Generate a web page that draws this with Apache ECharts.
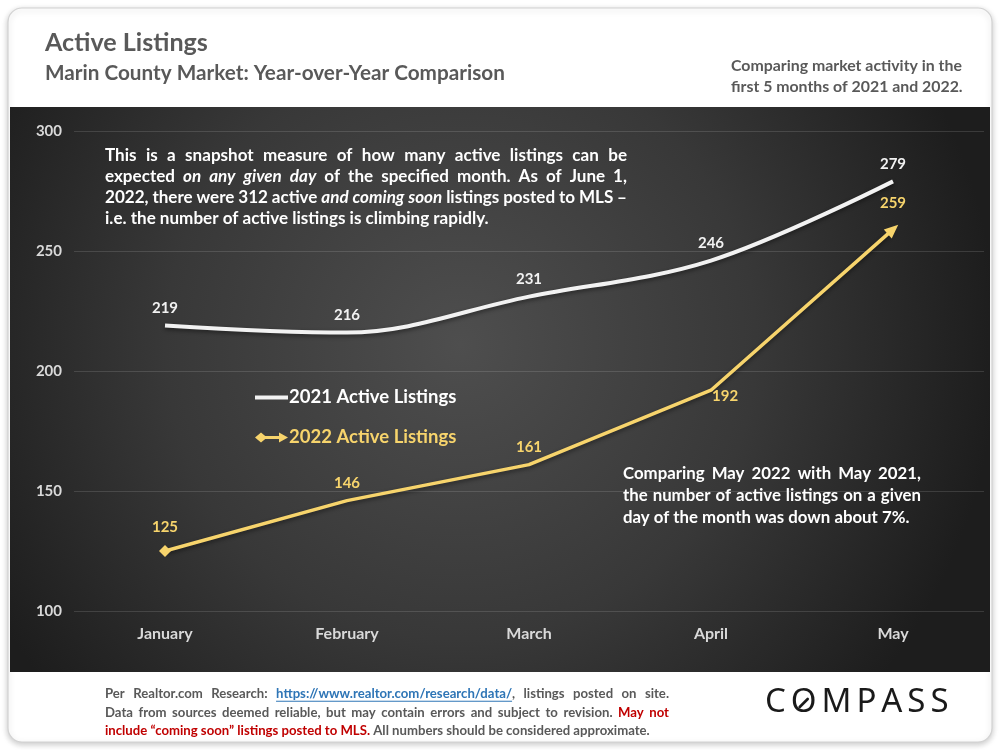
<!DOCTYPE html>
<html>
<head>
<meta charset="utf-8">
<script src="https://cdn.jsdelivr.net/npm/echarts@6/dist/echarts.min.js"></script>
<style>
html,body{margin:0;padding:0;background:#ffffff;}
#main{width:1000px;height:750px;}
</style>
</head>
<body>
<div id="main"></div>
<script>
// ---- data ----
const categories = ['January', 'February', 'March', 'April', 'May'];
const listings2021 = [219, 216, 231, 246, 279];
const listings2022 = [125, 146, 161, 192, 259];
const seriesNames = ['2021 Active Listings', '2022 Active Listings'];
const yMin = 100, yMax = 300, yStep = 50;

const WHITE = '#f2f2f2';
const GOLD = '#f7d46c';
const GREY = '#595959';
const FAM = 'Lato';

// ---- text helper (justified / left-aligned paragraphs) ----
const cv = document.createElement('canvas');
const ctx = cv.getContext('2d');
function fontStr(st, size, fam, weight) {
  return (st && st.italic ? 'italic ' : '') + weight + ' ' + size + 'px ' + fam;
}
function measure(t, f) { ctx.font = f; return ctx.measureText(t).width; }
function toWords(pieces) {
  const words = []; let cur = [];
  pieces.forEach(function (p) {
    const parts = p[0].split(' ');
    parts.forEach(function (s, i) {
      if (i > 0) { if (cur.length) words.push(cur); cur = []; }
      if (s) cur.push([s, p[1]]);
    });
  });
  if (cur.length) words.push(cur);
  return words;
}
function textBlock(o) {
  const fam = o.family || FAM, weight = o.weight || 'bold';
  const styles = o.styles || {};
  function lineNatural(pieces, size) {
    const words = toWords(pieces);
    let w = 0;
    words.forEach(function (wd) { wd.forEach(function (p) { w += measure(p[0], fontStr(styles[p[1]], size, fam, weight)); }); });
    return w + (words.length - 1) * measure(' ', fontStr(null, size, fam, weight));
  }
  let size = o.size || 16;
  if (o.fit) {
    const nat = lineNatural(o.lines[o.fit[0]], 100);
    size = 100 * o.fit[1] / nat;
  }
  const els = [], placed = [];
  const space = measure(' ', fontStr(null, size, fam, weight));
  o.lines.forEach(function (pieces, li) {
    const words = toWords(pieces);
    const ws = words.map(function (wd) {
      return wd.map(function (p) { return measure(p[0], fontStr(styles[p[1]], size, fam, weight)); });
    });
    let total = 0; ws.forEach(function (a) { a.forEach(function (v) { total += v; }); });
    const isLast = li === o.lines.length - 1;
    let gap = space;
    if ((o.justify === 'all' || (o.justify === 'allButLast' && !isLast)) && words.length > 1) {
      gap = Math.max(size * 0.15, (o.width - total) / (words.length - 1));
    }
    let x = o.x;
    const y = o.y + li * (o.lh || size * 1.3);
    words.forEach(function (wd, wi) {
      wd.forEach(function (p, pi) {
        const st = styles[p[1]] || {};
        const f = fontStr(st, size, fam, weight);
        els.push({
          type: 'text', x: x, y: y, z: 50,
          style: { text: p[0], font: f, fill: st.color || o.color, textAlign: 'left', textVerticalAlign: 'middle', align: 'left', verticalAlign: 'middle' }
        });
        placed.push({ text: p[0], key: p[1], x: x, y: y, w: ws[wi][pi], size: size });
        x += ws[wi][pi];
      });
      x += gap;
    });
  });
  return { els: els, placed: placed, size: size };
}

// ---- backgrounds ----
const graphics = [];
graphics.push({
  type: 'rect', z: -20, silent: true,
  shape: { x: 8, y: 8, width: 984, height: 734, r: 14 },
  style: { fill: '#ffffff', stroke: '#d2d2d2', lineWidth: 1.2, shadowBlur: 6, shadowColor: 'rgba(0,0,0,0.22)', shadowOffsetY: 2 }
});
graphics.push({
  type: 'rect', z: -15, silent: true,
  shape: { x: 10, y: 107, width: 980, height: 565 },
  style: {
    fill: {
      type: 'radial', x: 0.46, y: 0.42, r: 0.95,
      colorStops: [
        { offset: 0, color: '#4e4e4e' },
        { offset: 0.55, color: '#383838' },
        { offset: 1, color: '#1d1d1d' }
      ]
    }
  }
});

// ---- texts ----
function add(b) { b.els.forEach(function (e) { graphics.push(e); }); return b; }

add(textBlock({ x: 45, y: 43, lines: [[['Active Listings', 'n']]], fit: [0, 163], color: GREY }));
add(textBlock({ x: 45, y: 73, lines: [[['Marin County Market: Year-over-Year Comparison', 'n']]], fit: [0, 460], color: GREY }));
add(textBlock({
  x: 731, y: 66, lh: 21, color: GREY,
  lines: [[['Comparing market activity in the', 'n']], [['first 5 months of 2021 and 2022.', 'n']]],
  fit: [0, 231]
}));

add(textBlock({
  x: 105, y: 155, lh: 21.3, width: 522, justify: 'allButLast', color: '#ffffff',
  styles: { i: { italic: true } },
  lines: [
    [['This is a snapshot measure of how many active listings can be', 'n']],
    [['expected ', 'n'], ['on any given day', 'i'], [' of the specified month. As of June 1,', 'n']],
    [['2022, there were 312 active ', 'n'], ['and coming soon', 'i'], [' listings posted to MLS \u2013', 'n']],
    [['i.e. the number of active listings is climbing rapidly.', 'n']]
  ],
  fit: [3, 384]
}));

add(textBlock({
  x: 623, y: 474, lh: 22, width: 298, justify: 'allButLast', color: '#ffffff',
  lines: [
    [['Comparing May 2022 with May 2021,', 'n']],
    [['the number of active listings on a given', 'n']],
    [['day of the month was down about 7%.', 'n']]
  ],
  fit: [1, 292]
}));

const foot = add(textBlock({
  x: 105, y: 694, lh: 18.5, width: 564, justify: 'allButLast', color: GREY,
  styles: { l: { color: '#2e75b6' }, r: { color: '#c00000' } },
  lines: [
    [['Per Realtor.com Research:  ', 'n'], ['https://www.realtor.com/research/data/', 'l'], [', listings posted on site.', 'n']],
    [['Data from sources deemed reliable, but may contain errors and subject to revision. ', 'n'], ['May not', 'r']],
    [['include \u201ccoming soon\u201d listings posted to MLS.', 'r'], [' All numbers should be considered approximate.', 'n']]
  ],
  fit: [2, 545]
}));
foot.placed.filter(function (p) { return p.key === 'l'; }).forEach(function (p) {
  graphics.push({
    type: 'line', z: 50, silent: true,
    shape: { x1: p.x, y1: p.y + p.size * 0.55, x2: p.x + p.w, y2: p.y + p.size * 0.55 },
    style: { stroke: '#2e75b6', lineWidth: 1 }
  });
});

const logo = add(textBlock({
  x: 765, y: 703, width: 180, justify: 'all', color: '#1a1a1a', family: 'Noto Sans', weight: 'normal', size: 33,
  lines: [[['C O M P A S S', 'n']]]
}));
logo.placed.filter(function (p) { return p.text === 'O'; }).forEach(function (p) {
  const cx = p.x + p.w / 2, cy = p.y;
  graphics.push({
    type: 'line', z: 51, silent: true,
    shape: { x1: cx - 4, y1: cy + 4, x2: cx + 4, y2: cy - 4 },
    style: { stroke: '#1a1a1a', lineWidth: 2.6, lineCap: 'round' }
  });
});

// ---- chart ----
const labelFont = { fontFamily: FAM, fontWeight: 'bold', fontSize: 15 };
const data2022 = listings2022.map(function (v, i) {
  const item = { value: v };
  if (i === 0) { item.symbol = 'diamond'; item.symbolSize = [12, 12]; }
  if (i === listings2022.length - 1) { item.symbol = 'triangle'; item.symbolSize = [12, 14]; item.symbolRotate = -48.5; }
  if (i === 3) { item.label = { position: 'right', distance: 1, offset: [0, 6] }; }
  return item;
});

const chart = echarts.init(document.getElementById('main'), null, { renderer: 'canvas' });
chart.setOption({
  animation: false,
  backgroundColor: 'transparent',
  graphic: { elements: graphics },
  grid: { left: 74, right: 16, top: 131, bottom: 139 },
  legend: {
    left: 250, top: 383, orient: 'vertical', itemGap: 21,
    itemWidth: 33, itemHeight: 10, selectedMode: false,
    textStyle: { fontFamily: FAM, fontWeight: 'bold', fontSize: 18.5, padding: [0, 0, 0, -4] },
    data: [
      { name: seriesNames[0], icon: 'path://M0 0 L29 0 L29 3.5 L0 3.5 Z', textStyle: { color: '#ffffff' } },
      { name: seriesNames[1], icon: 'path://M0 5 L6 0 L12 5 L6 10 Z M10 3.6 L26 3.6 L26 6.4 L10 6.4 Z M24 0 L33 5 L24 10 Z', textStyle: { color: GOLD } }
    ]
  },
  xAxis: {
    type: 'category', data: categories, boundaryGap: true,
    axisLine: { show: false }, axisTick: { show: false },
    axisLabel: { color: '#d9d9d9', fontFamily: FAM, fontWeight: 'bold', fontSize: 16, margin: 15 }
  },
  yAxis: {
    type: 'value', min: yMin, max: yMax, interval: yStep,
    axisLine: { show: false }, axisTick: { show: false },
    axisLabel: { color: '#d9d9d9', fontFamily: FAM, fontWeight: 'bold', fontSize: 15, margin: 12 },
    splitLine: { lineStyle: { color: 'rgba(255,255,255,0.13)', width: 1 } }
  },
  series: [
    {
      name: seriesNames[0], type: 'line', data: listings2021, smooth: 0.35,
      symbol: 'circle', symbolSize: 0, showSymbol: true,
      itemStyle: { color: WHITE },
      lineStyle: { color: WHITE, width: 4, shadowColor: 'rgba(0,0,0,0.45)', shadowBlur: 4, shadowOffsetY: 2 },
      label: Object.assign({ show: true, position: 'top', distance: 10, color: '#f2f2f2' }, labelFont),
      z: 3
    },
    {
      name: seriesNames[1], type: 'line', data: data2022, smooth: false,
      symbol: 'circle', symbolSize: 0, showSymbol: true,
      itemStyle: { color: GOLD },
      lineStyle: { color: GOLD, width: 3.5, shadowColor: 'rgba(0,0,0,0.45)', shadowBlur: 4, shadowOffsetY: 2 },
      label: Object.assign({ show: true, position: 'top', distance: 10, color: GOLD }, labelFont),
      z: 4
    }
  ]
});
</script>
</body>
</html>
